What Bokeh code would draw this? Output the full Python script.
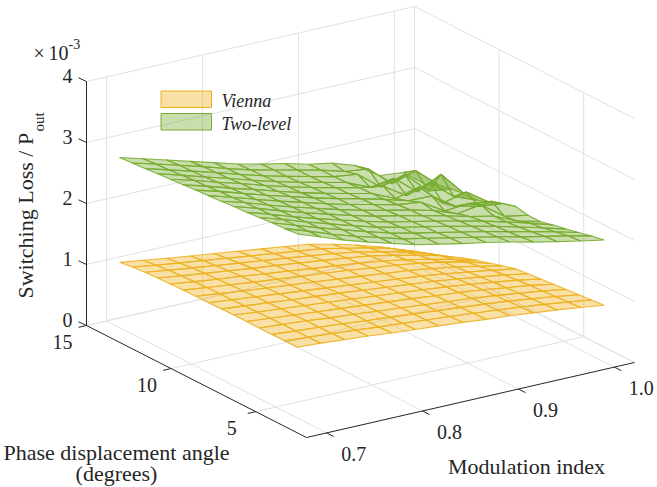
import math
from bokeh.plotting import figure
from bokeh.models import Range1d
from bokeh.core.properties import value
from bokeh.embed import file_html
from bokeh.resources import INLINE

# ---------- data ----------
modulation = [0.68, 0.7046, 0.7292, 0.7538, 0.7785, 0.8031, 0.8277, 0.8523, 0.8769, 0.9015, 0.9262, 0.9508, 0.9754, 1.0]
angle = [2.6, 3.35, 4.1, 4.85, 5.6, 6.35, 7.1, 7.85, 8.6, 9.35, 10.1, 10.85, 11.6, 12.35, 13.1]

vienna = [
    [1.39, 1.37, 1.34, 1.31, 1.27, 1.24, 1.21, 1.18, 1.14, 1.11, 1.07, 1.03, 0.98, 0.93],
    [1.39, 1.36, 1.335, 1.30, 1.265, 1.235, 1.20, 1.17, 1.135, 1.10, 1.06, 1.015, 0.965, 0.91],
    [1.39, 1.36, 1.33, 1.30, 1.26, 1.23, 1.195, 1.16, 1.125, 1.09, 1.05, 1.00, 0.95, 0.89],
    [1.39, 1.36, 1.33, 1.29, 1.26, 1.22, 1.19, 1.15, 1.115, 1.08, 1.035, 0.985, 0.935, 0.87],
    [1.39, 1.355, 1.32, 1.285, 1.25, 1.215, 1.18, 1.145, 1.105, 1.07, 1.025, 0.97, 0.92, 0.85],
    [1.39, 1.35, 1.315, 1.28, 1.245, 1.21, 1.17, 1.135, 1.095, 1.055, 1.01, 0.955, 0.90, 0.83],
    [1.385, 1.345, 1.31, 1.27, 1.235, 1.20, 1.16, 1.12, 1.08, 1.04, 0.99, 0.935, 0.88, 0.81],
    [1.38, 1.34, 1.30, 1.26, 1.22, 1.18, 1.14, 1.10, 1.06, 1.02, 0.97, 0.91, 0.85, 0.785],
    [1.38, 1.335, 1.29, 1.25, 1.21, 1.17, 1.13, 1.09, 1.045, 1.005, 0.95, 0.885, 0.81, 0.73],
    [1.375, 1.33, 1.285, 1.24, 1.20, 1.16, 1.12, 1.08, 1.03, 0.99, 0.93, 0.86, 0.775, 0.665],
    [1.37, 1.32, 1.27, 1.23, 1.18, 1.14, 1.09, 1.05, 1.00, 0.95, 0.88, 0.80, 0.71, 0.605],
    [1.36, 1.31, 1.26, 1.215, 1.165, 1.125, 1.075, 1.03, 0.98, 0.925, 0.85, 0.765, 0.665, 0.535],
    [1.35, 1.295, 1.245, 1.195, 1.145, 1.10, 1.05, 1.00, 0.95, 0.885, 0.80, 0.71, 0.595, 0.45],
    [1.33, 1.27, 1.22, 1.17, 1.12, 1.07, 1.02, 0.97, 0.92, 0.84, 0.76, 0.66, 0.52, 0.37],
    [1.30, 1.245, 1.19, 1.14, 1.09, 1.04, 0.99, 0.94, 0.89, 0.80, 0.70, 0.58, 0.44, 0.29],
]
two_level = [
    [3.25, 3.11, 2.97, 2.85, 2.74, 2.63, 2.55, 2.47, 2.40, 2.32, 2.23, 2.15, 2.07, 2.00],
    [3.23, 3.10, 2.96, 2.84, 2.73, 2.62, 2.54, 2.46, 2.38, 2.30, 2.21, 2.13, 2.05, 1.96],
    [3.22, 3.09, 2.96, 2.84, 2.72, 2.61, 2.52, 2.44, 2.36, 2.28, 2.19, 2.10, 2.01, 1.91],
    [3.20, 3.08, 2.95, 2.83, 2.71, 2.60, 2.51, 2.43, 2.35, 2.26, 2.17, 2.07, 1.97, 1.86],
    [3.18, 3.06, 2.93, 2.81, 2.70, 2.59, 2.49, 2.41, 2.33, 2.24, 2.15, 2.05, 1.94, 1.82],
    [3.17, 3.05, 2.92, 2.80, 2.69, 2.58, 2.48, 2.40, 2.31, 2.22, 2.12, 2.04, 1.87, 1.77],
    [3.15, 3.04, 2.91, 2.79, 2.68, 2.57, 2.47, 2.38, 2.30, 2.20, 2.06, 2.12, 1.84, 1.77],
    [3.135, 3.02, 2.90, 2.78, 2.67, 2.56, 2.46, 2.37, 2.28, 2.23, 2.00, 2.03, 1.98, 1.81],
    [3.12, 3.01, 2.89, 2.77, 2.66, 2.55, 2.45, 2.36, 2.26, 2.15, 2.14, 1.88, 1.79, 1.75],
    [3.10, 2.99, 2.87, 2.76, 2.64, 2.53, 2.43, 2.34, 2.25, 2.08, 2.18, 1.83, 1.92, 1.66],
    [3.085, 2.98, 2.86, 2.75, 2.63, 2.52, 2.42, 2.33, 2.24, 2.18, 1.93, 2.06, 1.74, 1.59],
    [3.07, 2.96, 2.84, 2.73, 2.61, 2.50, 2.40, 2.31, 2.22, 2.05, 2.11, 1.80, 2.00, 1.59],
    [3.05, 2.94, 2.83, 2.72, 2.60, 2.49, 2.39, 2.30, 2.21, 2.16, 1.86, 1.98, 1.62, 1.56],
    [3.035, 2.93, 2.82, 2.71, 2.59, 2.48, 2.39, 2.30, 2.21, 2.10, 2.05, 1.72, 1.85, 1.52],
    [3.02, 2.91, 2.80, 2.69, 2.58, 2.47, 2.38, 2.30, 2.20, 2.13, 2.00, 1.75, 1.71, 1.42],
]
x_ticks = [0.7, 0.8, 0.9, 1.0]
x_tick_labels = ["0.7", "0.8", "0.9", "1.0"]
y_ticks = [5, 10, 15]
y_tick_labels = ["5", "10", "15"]
z_ticks = [0, 1, 2, 3, 4]
z_tick_labels = ["0", "1", "2", "3", "4"]
series_names = ["Vienna", "Two-level"]
series_colors = ["#EDB120", "#77AC30"]

# ---------- projection (MATLAB-like orthographic view) ----------
XMIN, XMAX = 0.679, 1.021
YMIN, YMAX = 2.0, 15.0
ZMIN, ZMAX = 0.0, 4.0
TXT = "#262626"
SERIF = value("Liberation Serif")


def proj(x, y, z):
    u = (x - XMIN) / (XMAX - XMIN)
    v = (y - YMIN) / (YMAX - YMIN)
    return 306 + 328 * u - 220 * v, 437 - 75 * u - 112 * v - 61 * z


W, H = 657, 487
p = figure(width=W, height=H, output_backend="svg", toolbar_location=None,
           x_range=Range1d(0, W), y_range=Range1d(H, 0),
           x_axis_location=None, y_axis_location=None, min_border=0,
           outline_line_color=None, background_fill_color="white")
p.grid.visible = False


def seg(points, color, width=1.0):
    xs, ys = [], []
    for a, b in points:
        ax, ay = proj(*a)
        bx, by = proj(*b)
        xs.append([ax, bx])
        ys.append([ay, by])
    p.multi_line(xs, ys, line_color=color, line_width=width)


# grid on floor and the two back walls
GRID = "#e1e1e1"
g = []
for xt in x_ticks:
    g.append(((xt, YMIN, ZMIN), (xt, YMAX, ZMIN)))
    g.append(((xt, YMAX, ZMIN), (xt, YMAX, ZMAX)))
for yt in y_ticks:
    g.append(((XMIN, yt, ZMIN), (XMAX, yt, ZMIN)))
    g.append(((XMAX, yt, ZMIN), (XMAX, yt, ZMAX)))
for zt in z_ticks:
    g.append(((XMIN, YMAX, zt), (XMAX, YMAX, zt)))
    g.append(((XMAX, YMAX, zt), (XMAX, YMIN, zt)))
g.append(((XMAX, YMIN, ZMIN), (XMAX, YMAX, ZMIN)))
seg(g, GRID)


# surfaces
def surface(table, color):
    xs, ys = [], []
    for j in range(len(angle) - 1, 0, -1):
        for i in range(len(modulation) - 1):
            corners = [(i, j), (i + 1, j), (i + 1, j - 1), (i, j - 1)]
            pts = [proj(modulation[a], angle[b], table[b][a]) for a, b in corners]
            xs.append([q[0] for q in pts])
            ys.append([q[1] for q in pts])
    p.patches(xs, ys, fill_color=color, fill_alpha=0.4, line_color=color, line_width=1.1, line_alpha=0.9)


surface(vienna, series_colors[0])
surface(two_level, series_colors[1])

# axes
AX = "#262626"
seg([((XMIN, YMAX, ZMIN), (XMIN, YMAX, ZMAX)),
     ((XMIN, YMAX, ZMIN), (XMIN, YMIN, ZMIN)),
     ((XMIN, YMIN, ZMIN), (XMAX, YMIN, ZMIN))], AX)
tx, ty = [], []
for zt in z_ticks:
    a = proj(XMIN, YMAX, zt)
    tx.append([a[0], a[0] - 8]); ty.append([a[1], a[1] - 3.7])
for yt in y_ticks:
    a = proj(XMIN, yt, ZMIN)
    tx.append([a[0], a[0] - 8]); ty.append([a[1], a[1] + 1.8])
for xt in x_ticks:
    a = proj(xt, YMIN, ZMIN)
    tx.append([a[0], a[0] + 7]); ty.append([a[1], a[1] + 3.6])
p.multi_line(tx, ty, line_color=AX, line_width=1)


def label(x, y, s, size, align="center", angle_=0.0, style="normal", base="middle"):
    p.text([x], [y], text=[s], text_font=SERIF, text_font_size=value(f"{size}px"), text_color=TXT,
           text_align=align, text_baseline=base, angle=angle_, text_font_style=style)


# tick labels
for zt, s in zip(z_ticks, z_tick_labels):
    a = proj(XMIN, YMAX, zt)
    label(a[0] - 19, a[1] - 6, s, 20)
for yt, s in zip(y_ticks, y_tick_labels):
    a = proj(XMIN, yt, ZMIN)
    label(a[0] - 24, a[1] + 16, s, 20)
for xt, s in zip(x_ticks, x_tick_labels):
    a = proj(xt, YMIN, ZMIN)
    label(a[0] + 27, a[1] + 21, s, 20)

# titles
label(526, 466, "Modulation index", 22)
label(116, 452, "Phase displacement angle", 22)
label(116, 473, "(degrees)", 22)
label(25, 298, "Switching Loss / P", 22, align="left", angle_=math.pi / 2)
label(38, 131, "out", 15, align="left", angle_=math.pi / 2)
label(33, 52, "\u00d7", 20, align="left")
label(48, 52, "10", 20, align="left")
label(68, 43, "-3", 14, align="left")

# legend
for k, (name, col) in enumerate(zip(series_names, series_colors)):
    top = 90.5 + 22.5 * k
    p.quad(left=[160.5], right=[211], top=[top], bottom=[top + 16.5], fill_color=col, fill_alpha=0.4,
           line_color=col, line_width=1)
    label(221, top + 10, name, 18, align="left", style="italic")

open("out.html", "w").write(file_html(p, INLINE))
